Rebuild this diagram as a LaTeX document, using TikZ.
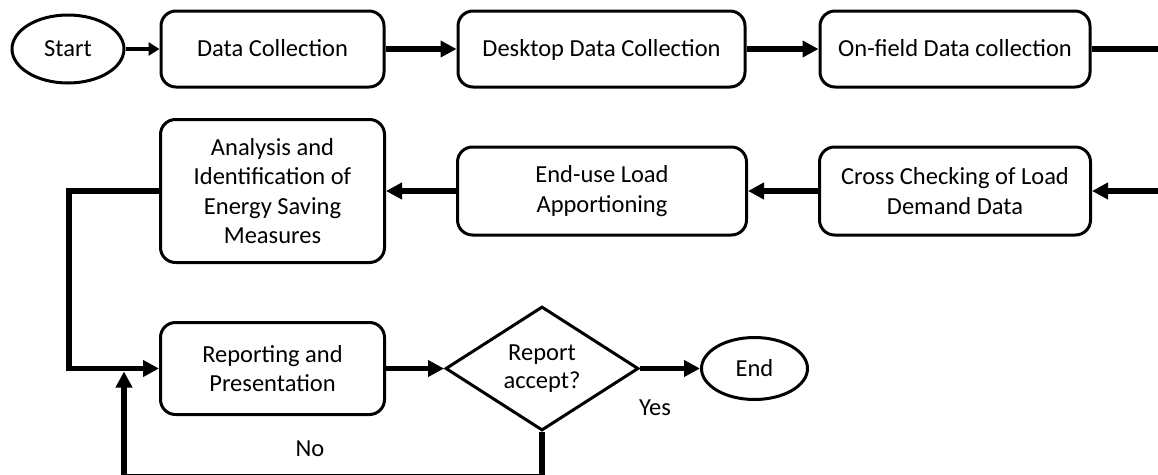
\documentclass[tikz,border=0pt]{standalone}
\usepackage{fontspec}
\setmainfont{Carlito}
\usepackage{tikz}
\usetikzlibrary{positioning,shapes.geometric,arrows.meta}

\begin{document}
\begin{tikzpicture}[x=1pt, y=1pt,
                      every node/.style={font=\fontsize{24.5}{29.5}\selectfont, align=center},
                      box/.style={draw, line width=3pt, rounded corners=15pt, inner sep=4pt},
                      one line/.style={text height=19.5pt, text depth=4.5pt},
                      term/.style={draw, ellipse, line width=3pt, inner sep=0pt, one line},
                      flow/.style={line width=5.5pt, -{Triangle[length=16pt, width=16pt]}},
                      thin flow/.style={line width=3.5pt, -{Triangle[length=11pt, width=13pt]}}]
  \useasboundingbox (0,0) rectangle (1158,-474);
  % top row
  \node[term, minimum width=112pt, minimum height=68pt] (start) at (68,-49) {Start};
  \node[box, one line, minimum width=223pt, minimum height=76pt, right=34pt of start] (dc) {Data Collection};
  \node[box, one line, minimum width=287pt, minimum height=76pt, right=71pt of dc] (ddc) {Desktop Data Collection};
  \node[box, one line, minimum width=270pt, minimum height=76pt, right=72pt of ddc] (ofd) {On-field Data collection};
  % middle row, right to left
  \node[box, minimum width=271pt, minimum height=88pt, below=57pt of ofd] (ccd) {Cross Checking of Load\\Demand Data};
  \node[box, minimum width=289pt, minimum height=88pt, left=70pt of ccd] (eul) {End-use Load\\Apportioning};
  \node[box, minimum width=224pt, minimum height=143pt, left=70pt of eul] (ana) {Analysis and\\Identification of\\Energy Saving\\Measures};
  % bottom row
  \node[box, minimum width=224pt, minimum height=92pt, below=57pt of ana] (rep) {Reporting and\\Presentation};
  \node[draw, diamond, line width=3pt, inner sep=0pt, aspect=1.56, minimum width=193pt, minimum height=124pt,
        right=58pt of rep, font=\fontsize{24.5}{28}\selectfont] (dec) {Report\\accept?};
  \node[term, minimum width=106pt, minimum height=62pt, right=60pt of dec] (end) {End};
  \node (yes) at (655,-408) {Yes};
  \node (no) at (310,-449) {No};

  \draw[thin flow] (start) -- (dc);
  \draw[flow] (dc) -- (ddc);
  \draw[flow] (ddc) -- (ofd);
  \draw[flow] (ofd.east) -- ++(75,0) |- (ccd.east);
  \draw[flow] (ccd) -- (eul);
  \draw[flow] (eul) -- (ana);
  \draw[flow] (ana.west) -- ++(-90,0) |- (rep.west);
  \draw[flow] (rep) -- (dec);
  \draw[flow] (dec) -- (end);
  \draw[flow] (dec.south) -- ++(0,-45) -| ([xshift=-35pt, yshift=-3pt]rep.west);
\end{tikzpicture}
\end{document}
